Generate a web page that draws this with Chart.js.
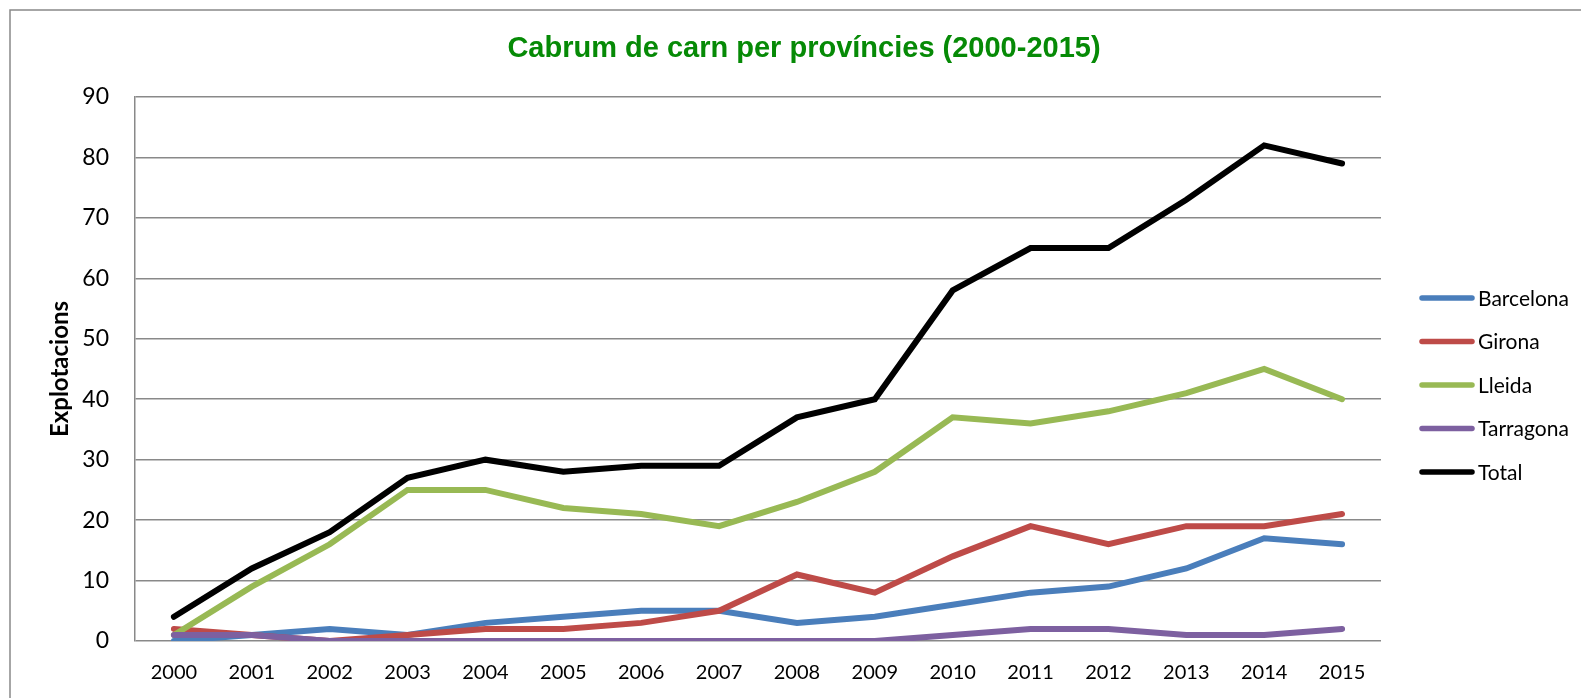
<!DOCTYPE html>
<html>
<head>
<meta charset="utf-8">
<script src="https://cdn.jsdelivr.net/npm/chart.js@4/dist/chart.umd.min.js"></script>
<style>
  html, body { margin: 0; padding: 0; background: #ffffff; }
  #wrap { width: 1581px; height: 698px; position: relative; }
</style>
</head>
<body>
<div id="wrap"><canvas id="chart" width="1581" height="698"></canvas></div>
<script>
// Meat-goat farms by province, 2000-2015
const years = ['2000','2001','2002','2003','2004','2005','2006','2007','2008','2009','2010','2011','2012','2013','2014','2015'];
const barcelona = [0, 1, 2, 1, 3, 4, 5, 5, 3, 4, 6, 8, 9, 12, 17, 16];
const girona    = [2, 1, 0, 1, 2, 2, 3, 5, 11, 8, 14, 19, 16, 19, 19, 21];
const lleida    = [1, 9, 16, 25, 25, 22, 21, 19, 23, 28, 37, 36, 38, 41, 45, 40];
const tarragona = [1, 1, 0, 0, 0, 0, 0, 0, 0, 0, 1, 2, 2, 1, 1, 2];
const total     = [4, 12, 18, 27, 30, 28, 29, 29, 37, 40, 58, 65, 65, 73, 82, 79];
const yTicks    = [0, 10, 20, 30, 40, 50, 60, 70, 80, 90];

const titleText = 'Cabrum de carn per províncies (2000-2015)';
const yTitle = 'Explotacions';

const series = [
  { label: 'Barcelona', data: barcelona, color: '#4a7ebb' },
  { label: 'Girona',    data: girona,    color: '#be4b48' },
  { label: 'Lleida',    data: lleida,    color: '#98b954' },
  { label: 'Tarragona', data: tarragona, color: '#7d60a0' },
  { label: 'Total',     data: total,     color: '#000000' }
];

const gridColor = '#898989';
const tickFont = "'Lato', 'Open Sans', sans-serif";

// Frame, title and legend drawn around the plot
const decor = {
  id: 'decor',
  beforeDraw(chart) {
    const ctx = chart.ctx;
    ctx.save();
    ctx.fillStyle = '#ffffff';
    ctx.fillRect(0, 0, chart.width, chart.height);
    ctx.strokeStyle = gridColor;
    ctx.lineWidth = 1.5;
    ctx.strokeRect(10, 10, chart.width + 50, chart.height + 50);
    ctx.restore();
  },
  afterDraw(chart) {
    const ctx = chart.ctx;
    ctx.save();
    // title
    ctx.fillStyle = '#068a06';
    ctx.font = "bold 29px 'Liberation Sans', Arial, sans-serif";
    ctx.textAlign = 'center';
    ctx.textBaseline = 'middle';
    ctx.fillText(titleText, 804, 49);
    // legend
    ctx.textAlign = 'left';
    ctx.font = "21px " + tickFont;
    chart.data.datasets.forEach((ds, i) => {
      const y = 298 + i * 43.5;
      ctx.strokeStyle = ds.borderColor;
      ctx.lineWidth = 5.5;
      ctx.lineCap = 'round';
      ctx.beginPath();
      ctx.moveTo(1422, y);
      ctx.lineTo(1472, y);
      ctx.stroke();
      ctx.fillStyle = '#000000';
      ctx.fillText(ds.label, 1478, y + 1);
    });
    ctx.restore();
  }
};

new Chart(document.getElementById('chart'), {
  type: 'line',
  data: {
    labels: years,
    datasets: series.map((s, i) => ({
      label: s.label,
      data: s.data,
      borderColor: s.color,
      backgroundColor: s.color,
      borderWidth: 6,
      borderCapStyle: 'round',
      borderJoinStyle: 'miter',
      pointRadius: 0,
      pointHoverRadius: 0,
      tension: 0,
      fill: false,
      order: series.length - i
    }))
  },
  options: {
    responsive: false,
    animation: false,
    devicePixelRatio: 1,
    layout: { padding: { left: 27, right: 200, top: 97, bottom: 0 } },
    plugins: {
      legend: { display: false },
      title: { display: false },
      tooltip: { enabled: false }
    },
    scales: {
      x: {
        type: 'category',
        offset: true,
        grid: { display: false, drawTicks: false },
        border: { display: false },
        ticks: {
          color: '#000000',
          font: { family: tickFont, size: 20 },
          padding: 20,
          maxRotation: 0,
          autoSkip: false
        },
        afterFit(scale) { scale.height = 57; }
      },
      y: {
        min: 0,
        max: 90,
        afterBuildTicks(scale) { scale.ticks = yTicks.map(v => ({ value: v })); },
        grid: { color: gridColor, lineWidth: 1.5, drawTicks: false },
        border: { display: true, color: gridColor, width: 1.5 },
        ticks: {
          color: '#000000',
          font: { family: tickFont, size: 23 },
          padding: 26
        },
        title: {
          display: true,
          text: yTitle,
          color: '#000000',
          font: { family: tickFont, size: 24, weight: 'bold' },
          padding: { top: 19, bottom: 0 }
        },
        afterFit(scale) { scale.width = 108; }
      }
    }
  },
  plugins: [decor]
});
</script>
</body>
</html>
